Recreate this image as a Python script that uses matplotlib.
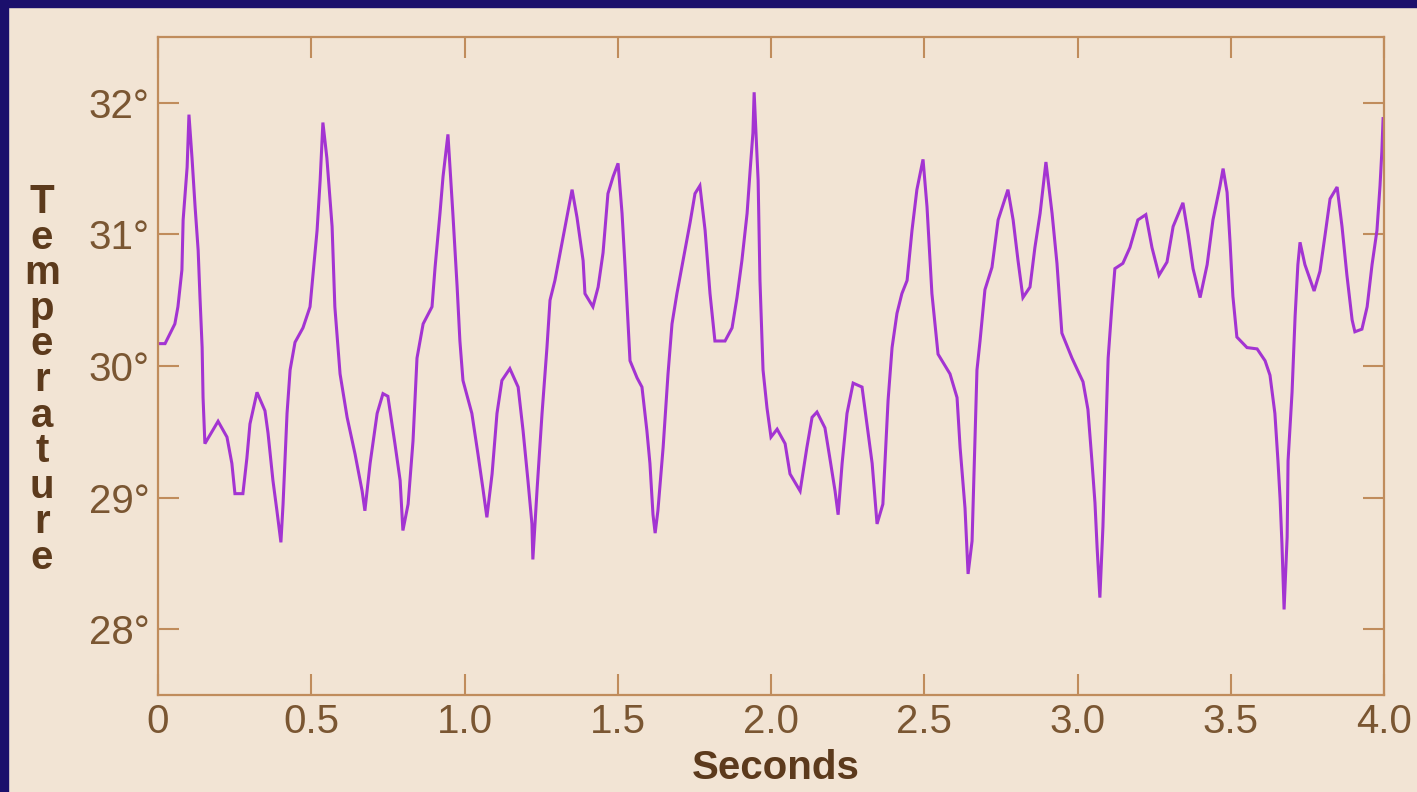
import matplotlib
matplotlib.use("Agg")
from matplotlib import pyplot as plt
from matplotlib.patches import Rectangle

# seconds / temperature
t = [0.0, 0.007, 0.023, 0.055, 0.065, 0.078, 0.082, 0.095, 0.101, 0.111, 0.121,
     0.131, 0.137, 0.144, 0.147, 0.153, 0.196, 0.225, 0.241, 0.251, 0.277,
     0.290, 0.300, 0.323, 0.349, 0.359, 0.375, 0.388, 0.401, 0.408, 0.421,
     0.431, 0.447, 0.473, 0.496, 0.506, 0.519, 0.529, 0.538, 0.551, 0.568,
     0.577, 0.594, 0.617, 0.643, 0.666, 0.675, 0.692, 0.715, 0.734, 0.750,
     0.773, 0.790, 0.799, 0.816, 0.832, 0.845, 0.865, 0.894, 0.904, 0.920,
     0.930, 0.946, 0.962, 0.976, 0.985, 0.995, 1.024, 1.044, 1.060, 1.073,
     1.090, 1.106, 1.122, 1.148, 1.175, 1.191, 1.207, 1.220, 1.223, 1.237,
     1.253, 1.269, 1.279, 1.295, 1.312, 1.328, 1.351, 1.367, 1.387, 1.393,
     1.419, 1.436, 1.452, 1.468, 1.485, 1.501, 1.514, 1.524, 1.540, 1.563,
     1.579, 1.595, 1.605, 1.615, 1.622, 1.631, 1.648, 1.664, 1.677, 1.693,
     1.713, 1.736, 1.752, 1.768, 1.785, 1.801, 1.817, 1.850, 1.873, 1.889,
     1.905, 1.922, 1.932, 1.941, 1.945, 1.958, 1.964, 1.974, 1.987, 2.000,
     2.020, 2.046, 2.062, 2.095, 2.117, 2.134, 2.150, 2.176, 2.192, 2.209,
     2.219, 2.232, 2.248, 2.268, 2.297, 2.313, 2.330, 2.346, 2.365, 2.382,
     2.395, 2.411, 2.427, 2.444, 2.460, 2.476, 2.496, 2.509, 2.525, 2.545,
     2.584, 2.607, 2.617, 2.633, 2.643, 2.656, 2.672, 2.682, 2.698, 2.721,
     2.741, 2.773, 2.790, 2.806, 2.822, 2.845, 2.861, 2.878, 2.897, 2.917,
     2.933, 2.949, 2.982, 3.018, 3.034, 3.047, 3.057, 3.064, 3.073, 3.083,
     3.090, 3.100, 3.113, 3.122, 3.148, 3.171, 3.197, 3.223, 3.243, 3.266,
     3.292, 3.312, 3.344, 3.361, 3.377, 3.400, 3.423, 3.442, 3.465, 3.475,
     3.488, 3.498, 3.507, 3.520, 3.553, 3.586, 3.612, 3.628, 3.644, 3.654,
     3.661, 3.667, 3.674, 3.684, 3.687, 3.700, 3.710, 3.719, 3.726, 3.742,
     3.772, 3.791, 3.808, 3.824, 3.847, 3.863, 3.879, 3.896, 3.905, 3.928,
     3.945, 3.961, 3.977, 3.987, 3.993, 3.997]
temp = [30.17, 30.17, 30.17, 30.32, 30.45, 30.73, 31.11, 31.51, 31.91, 31.58, 31.21,
        30.88, 30.52, 30.14, 29.76, 29.41, 29.58, 29.46, 29.26, 29.03, 29.03,
        29.30, 29.56, 29.80, 29.66, 29.49, 29.13, 28.90, 28.66, 28.95, 29.64,
        29.97, 30.18, 30.29, 30.45, 30.70, 31.03, 31.41, 31.85, 31.58, 31.06,
        30.45, 29.94, 29.61, 29.33, 29.05, 28.90, 29.26, 29.64, 29.79, 29.77,
        29.41, 29.13, 28.75, 28.95, 29.43, 30.06, 30.32, 30.45, 30.75, 31.16,
        31.44, 31.76, 31.16, 30.60, 30.19, 29.89, 29.64, 29.33, 29.07, 28.85,
        29.18, 29.64, 29.89, 29.98, 29.84, 29.51, 29.13, 28.80, 28.53, 29.07,
        29.64, 30.14, 30.50, 30.65, 30.86, 31.06, 31.34, 31.13, 30.80, 30.55,
        30.45, 30.60, 30.86, 31.31, 31.44, 31.54, 31.16, 30.75, 30.04, 29.91,
        29.84, 29.51, 29.26, 28.87, 28.73, 28.90, 29.38, 29.94, 30.32, 30.55,
        30.80, 31.09, 31.31, 31.37, 31.03, 30.55, 30.19, 30.19, 30.29, 30.52,
        30.80, 31.16, 31.49, 31.77, 32.08, 31.41, 30.65, 29.97, 29.68, 29.46,
        29.52, 29.41, 29.18, 29.05, 29.38, 29.61, 29.65, 29.53, 29.30, 29.05,
        28.87, 29.26, 29.64, 29.87, 29.84, 29.56, 29.26, 28.80, 28.95, 29.74,
        30.14, 30.40, 30.55, 30.65, 31.03, 31.34, 31.57, 31.21, 30.55, 30.09,
        29.94, 29.76, 29.38, 28.92, 28.42, 28.67, 29.97, 30.19, 30.58, 30.75,
        31.11, 31.34, 31.11, 30.80, 30.52, 30.60, 30.90, 31.16, 31.55, 31.16,
        30.78, 30.25, 30.06, 29.88, 29.67, 29.28, 28.96, 28.62, 28.24, 28.78,
        29.33, 30.06, 30.48, 30.74, 30.78, 30.90, 31.11, 31.15, 30.90, 30.69,
        30.79, 31.06, 31.24, 31.00, 30.74, 30.52, 30.77, 31.11, 31.37, 31.50,
        31.32, 30.93, 30.53, 30.22, 30.14, 30.13, 30.04, 29.93, 29.64, 29.28,
        28.99, 28.65, 28.15, 28.70, 29.28, 29.80, 30.38, 30.77, 30.94, 30.77,
        30.57, 30.72, 31.00, 31.27, 31.36, 31.06, 30.69, 30.35, 30.26, 30.28,
        30.45, 30.77, 31.03, 31.37, 31.63, 31.88]

x_ticks = [0, 0.5, 1.0, 1.5, 2.0, 2.5, 3.0, 3.5, 4.0]
x_tick_labels = ["0", "0.5", "1.0", "1.5", "2.0", "2.5", "3.0", "3.5", "4.0"]
y_ticks = [28, 29, 30, 31, 32]
y_tick_labels = ["28°", "29°", "30°", "31°", "32°"]

bg = "#f2e4d4"
spine_col = "#c08c5c"
label_col = "#7a5632"
title_col = "#5c3a1c"
line_col = "#a334d2"

plt.rcParams["font.family"] = ["Liberation Sans", "DejaVu Sans"]

W, H = 1417, 792
fig = plt.figure(figsize=(W / 100, H / 100), dpi=100, facecolor=bg)
ax = fig.add_axes([158 / W, 1 - 695 / H, (1384 - 158) / W, (695 - 37) / H])
ax.set_facecolor(bg)

ax.plot(t, temp, color=line_col, lw=2.2, solid_joinstyle="miter")

ax.set_xlim(0, 4.0)
ax.set_ylim(27.5, 32.5)
ax.set_xticks(x_ticks)
ax.set_xticklabels(x_tick_labels)
ax.set_yticks(y_ticks)
ax.set_yticklabels(y_tick_labels)
ax.tick_params(direction="in", length=15, width=1.5, color=spine_col,
               top=True, right=True, labelsize=29, labelcolor=label_col, pad=6)
for s in ax.spines.values():
    s.set_color(spine_col)
    s.set_linewidth(1.6)

fig.text(776 / W, 1 - 768 / H, "Seconds", ha="center", va="center",
         fontsize=29, fontweight="bold", color=title_col)
fig.text(42 / W, 1 - 380 / H, "\n".join("Temperature"), ha="center", va="center",
         ma="center", fontsize=29, fontweight="bold", color=title_col, linespacing=0.92)

# dark slide frame on the left and top
fig.patches.append(Rectangle((0, 0), 8 / W, 1, transform=fig.transFigure,
                             color="#1b0f6c", zorder=10))
fig.patches.append(Rectangle((0, 1 - 7 / H), 1, 7 / H, transform=fig.transFigure,
                             color="#1b0f6c", zorder=10))

fig.savefig("out.png", dpi=100, facecolor=bg)
